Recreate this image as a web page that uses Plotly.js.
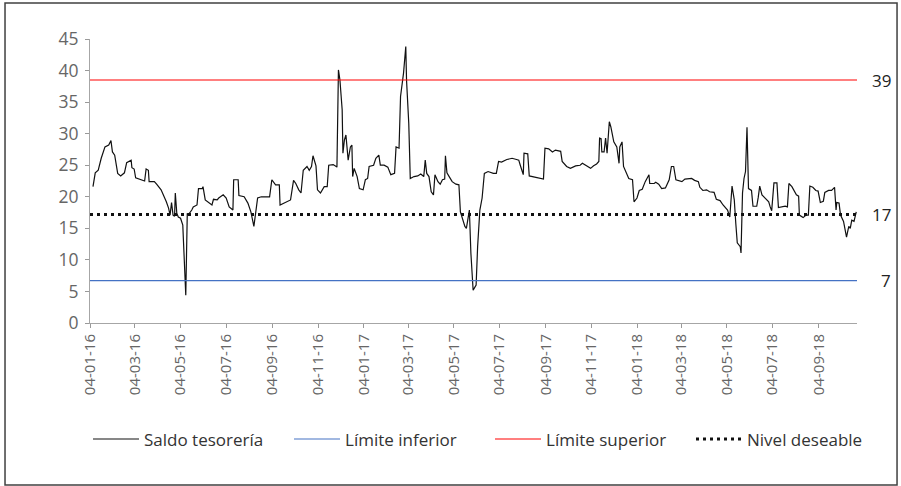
<!DOCTYPE html>
<html>
<head>
<meta charset="utf-8">
<script src="https://cdn.plot.ly/plotly-3.0.1.min.js"></script>
<style>
html,body{margin:0;padding:0;background:#fff;}
#chart{width:901px;height:486px;}
</style>
</head>
<body>
<div id="chart"></div>
<script>
// ---- data ----
const saldoDates = [
"2016-01-08","2016-01-11","2016-01-15","2016-01-19","2016-01-24","2016-01-29","2016-02-01","2016-02-03","2016-02-06","2016-02-10",
"2016-02-14","2016-02-19","2016-02-22","2016-02-28","2016-02-29","2016-03-03","2016-03-05","2016-03-12","2016-03-17","2016-03-19",
"2016-03-22","2016-03-23","2016-03-30","2016-04-02","2016-04-08","2016-04-15","2016-04-18","2016-04-20","2016-04-22","2016-04-24",
"2016-04-26","2016-04-27","2016-04-29","2016-05-01","2016-05-04","2016-05-07","2016-05-09","2016-05-11","2016-05-13","2016-05-14",
"2016-05-19","2016-05-21","2016-05-26","2016-05-28","2016-06-02","2016-06-03","2016-06-06","2016-06-11","2016-06-15","2016-06-17",
"2016-06-22","2016-06-24","2016-06-30","2016-07-04","2016-07-08","2016-07-13","2016-07-14","2016-07-20","2016-07-21","2016-07-28",
"2016-08-02","2016-08-06","2016-08-10","2016-08-15","2016-08-20","2016-08-31","2016-09-03","2016-09-08","2016-09-13","2016-09-14",
"2016-09-22","2016-09-28","2016-10-02","2016-10-05","2016-10-09","2016-10-12","2016-10-15","2016-10-20","2016-10-23","2016-10-26",
"2016-10-28","2016-11-01","2016-11-03","2016-11-07","2016-11-12","2016-11-16","2016-11-18","2016-11-24","2016-11-29","2016-12-01",
"2016-12-03","2016-12-06","2016-12-07","2016-12-09","2016-12-11","2016-12-14","2016-12-17","2016-12-19","2016-12-20","2016-12-22",
"2016-12-26","2016-12-29","2017-01-03","2017-01-06","2017-01-09","2017-01-11","2017-01-17","2017-01-20","2017-01-24","2017-01-26",
"2017-01-31","2017-02-05","2017-02-09","2017-02-14","2017-02-16","2017-02-20","2017-02-22","2017-02-26","2017-03-01","2017-03-02",
"2017-03-05","2017-03-07","2017-03-12","2017-03-17","2017-03-21","2017-03-25","2017-03-27","2017-03-29","2017-04-01","2017-04-04",
"2017-04-07","2017-04-09","2017-04-13","2017-04-16","2017-04-19","2017-04-22","2017-04-23","2017-04-25","2017-04-28","2017-05-02",
"2017-05-07","2017-05-11","2017-05-13","2017-05-16","2017-05-19","2017-05-21","2017-05-23","2017-05-25","2017-05-27","2017-05-30",
"2017-06-03","2017-06-05","2017-06-08","2017-06-11","2017-06-14","2017-06-19","2017-06-26","2017-06-30","2017-07-03","2017-07-07",
"2017-07-14","2017-07-21","2017-07-27","2017-07-30","2017-08-01","2017-08-05","2017-08-06","2017-08-11","2017-08-13","2017-08-21",
"2017-08-28","2017-09-01","2017-09-03","2017-09-08","2017-09-13","2017-09-17","2017-09-24","2017-09-26","2017-10-02","2017-10-07",
"2017-10-14","2017-10-20","2017-10-23","2017-10-29","2017-11-03","2017-11-07","2017-11-11","2017-11-14","2017-11-15","2017-11-17",
"2017-11-18","2017-11-21","2017-11-23","2017-11-25","2017-11-28","2017-11-30","2017-12-04","2017-12-08","2017-12-11","2017-12-12",
"2017-12-15","2017-12-17","2017-12-20","2017-12-24","2017-12-29","2017-12-31","2018-01-04","2018-01-07","2018-01-11","2018-01-15",
"2018-01-20","2018-01-21","2018-01-27","2018-01-29","2018-02-02","2018-02-06","2018-02-11","2018-02-16","2018-02-19","2018-02-22",
"2018-02-25","2018-03-01","2018-03-05","2018-03-09","2018-03-13","2018-03-18","2018-03-22","2018-03-27","2018-03-29","2018-04-02",
"2018-04-07","2018-04-11","2018-04-17","2018-04-20","2018-04-25","2018-04-29","2018-05-05","2018-05-08","2018-05-11","2018-05-14",
"2018-05-16","2018-05-18","2018-05-22","2018-05-23","2018-05-25","2018-05-27","2018-05-29","2018-05-31","2018-06-02","2018-06-06",
"2018-06-08","2018-06-13","2018-06-15","2018-06-17","2018-06-20","2018-06-24","2018-06-29","2018-07-01","2018-07-03","2018-07-06",
"2018-07-10","2018-07-12","2018-07-16","2018-07-21","2018-07-24","2018-07-26","2018-07-30","2018-08-05","2018-08-08","2018-08-09",
"2018-08-14","2018-08-18","2018-08-21","2018-08-23","2018-08-27","2018-08-31","2018-09-03","2018-09-06","2018-09-10","2018-09-12",
"2018-09-17","2018-09-21","2018-09-25","2018-09-27","2018-09-28","2018-10-01","2018-10-03","2018-10-05","2018-10-07","2018-10-11",
"2018-10-14","2018-10-16","2018-10-18","2018-10-21","2018-10-23","2018-10-24"
];
const saldoValues = [
21.6,23.8,24.2,26.1,27.9,28.2,28.9,27.1,26.6,23.7,
23.3,23.8,25.4,25.8,24.6,24.4,23.0,22.7,22.5,24.4,
24.2,22.4,22.4,22.0,21.1,19.2,18.2,17.1,19.1,17.1,
16.9,20.6,17.4,16.8,16.6,15.5,9.5,4.4,17.4,17.1,
17.9,18.4,18.7,21.3,21.3,21.6,19.5,19.1,18.7,19.6,
19.5,19.8,20.3,19.8,18.4,17.9,22.7,22.7,20.2,20.0,
19.0,17.6,15.3,19.8,20.0,20.0,22.7,21.9,21.9,18.7,
19.2,19.5,22.6,22.1,21.1,20.6,24.2,24.8,24.2,24.8,
26.5,24.9,21.1,20.6,21.6,21.6,25.0,25.1,24.7,40.1,
38.5,33.8,26.9,29.0,29.8,25.8,27.9,28.2,23.2,24.5,
23.2,21.3,21.1,22.7,22.9,24.8,25.0,26.1,26.6,25.0,
25.0,24.7,23.5,23.7,27.9,27.7,35.9,39.6,43.8,38.5,
31.6,22.9,23.2,23.3,23.6,23.2,25.8,23.7,23.2,20.8,
20.3,23.5,22.4,22.0,22.7,22.8,26.5,23.8,23.2,22.4,
22.0,21.9,17.6,16.6,15.3,15.0,16.3,17.9,11.1,5.2,
6.0,12.1,17.9,19.8,23.7,24.0,23.7,23.7,25.6,25.5,
25.9,26.1,25.9,25.8,25.0,23.5,26.9,26.8,23.3,23.1,
23.0,22.8,27.7,27.6,27.1,27.4,27.2,25.6,24.8,24.5,
24.9,25.0,25.3,24.8,24.5,24.9,25.2,25.6,29.3,29.2,
27.1,27.1,29.3,26.9,31.9,31.1,28.7,27.9,25.3,27.9,
28.7,24.8,24.0,22.9,22.7,19.2,19.8,21.0,21.2,22.4,
23.5,22.1,22.1,22.3,22.0,21.3,21.4,22.7,24.8,24.8,
22.7,22.6,22.4,22.8,22.8,22.9,22.6,22.4,21.5,21.0,
21.1,20.8,20.7,19.6,19.4,18.7,17.9,16.8,21.7,19.5,
15.8,12.7,12.1,11.1,20.6,22.9,24.0,31.0,21.3,21.0,
18.5,18.5,19.9,21.7,20.3,19.8,19.2,18.4,17.8,22.2,
22.2,18.3,18.4,18.5,18.4,22.1,21.6,20.3,20.1,17.1,
16.7,17.1,17.1,21.7,21.5,21.0,20.9,19.1,19.3,20.7,
21.0,21.0,21.5,17.9,19.1,19.0,17.1,16.6,16.1,13.6,
15.3,15.0,16.3,16.1,17.4,17.6
];
const rangeDates = ["2016-01-04","2018-10-25"];
const limiteInferior = 6.7;
const limiteSuperior = 38.5;
const nivelDeseable = 17.2;
const refLabels = ["39","17","7"];
const tickDates = ["2016-01-04","2016-03-04","2016-05-04","2016-07-04","2016-09-04","2016-11-04",
"2017-01-04","2017-03-04","2017-05-04","2017-07-04","2017-09-04","2017-11-04",
"2018-01-04","2018-03-04","2018-05-04","2018-07-04","2018-09-04"];
const tickLabels = ["04-01-16","04-03-16","04-05-16","04-07-16","04-09-16","04-11-16",
"04-01-17","04-03-17","04-05-17","04-07-17","04-09-17","04-11-17",
"04-01-18","04-03-18","04-05-18","04-07-18","04-09-18"];
const names = ["Saldo tesorería","Límite inferior","Límite superior","Nivel deseable"];

// ---- chart ----
const FONT = "Open Sans, Noto Sans, sans-serif";
const traces = [
  {x: saldoDates, y: saldoValues, type:"scatter", mode:"lines", name:names[0],
   line:{color:"#111111", width:1.2}},
  {x: rangeDates, y: [limiteInferior, limiteInferior], type:"scatter", mode:"lines", name:names[1],
   line:{color:"#4472c4", width:1.2}},
  {x: rangeDates, y: [limiteSuperior, limiteSuperior], type:"scatter", mode:"lines", name:names[2],
   line:{color:"#ff0000", width:1.2}},
  {x: rangeDates, y: [nivelDeseable, nivelDeseable], type:"scatter", mode:"lines", name:names[3],
   line:{color:"#111111", width:3, dash:"3px,4px"}}
];
const refVals = [limiteSuperior, nivelDeseable, limiteInferior];
const annotations = refVals.map((v,i)=>({
  xref:"paper", yref:"y", x:1.047, y:v, xanchor:"right", yanchor:"middle",
  text: refLabels[i], showarrow:false, font:{family:FONT, size:17, color:"#222"}
}));
const layout = {
  width:901, height:486,
  margin:{l:90, r:44, t:39, b:163},
  paper_bgcolor:"#fff", plot_bgcolor:"#fff",
  showlegend:true,
  legend:{orientation:"h", x:-0.0026, xanchor:"left", y:-0.41, yanchor:"middle",
    font:{family:FONT, size:17, color:"#333"}, itemwidth:46, entrywidth:140, entrywidthmode:"pixels",
    tracegroupgap:0},
  xaxis:{type:"date", range:rangeDates, tickmode:"array", tickvals:tickDates, ticktext:tickLabels,
    tickangle:-90, ticks:"outside", ticklen:4, tickcolor:"#999", showline:true, linecolor:"#a6a6a6",
    linewidth:1, showgrid:false, zeroline:false, tickfont:{family:FONT, size:15, color:"#666"}},
  yaxis:{range:[0,45], dtick:5, tick0:0, ticks:"outside", ticklen:4, tickcolor:"#999",
    showline:true, linecolor:"#a6a6a6", linewidth:1, showgrid:false, zeroline:false,
    ticklabelstandoff:3, tickfont:{family:FONT, size:17.5, color:"#666"}},
  annotations: annotations,
  shapes:[{type:"rect", xref:"paper", yref:"paper", x0:-0.1108, x1:1.0522, y0:-0.570, y1:1.1268,
    line:{color:"#404040", width:1.5}, layer:"below"}]
};
Plotly.newPlot("chart", traces, layout, {displayModeBar:false, staticPlot:true});
</script>
</body>
</html>
